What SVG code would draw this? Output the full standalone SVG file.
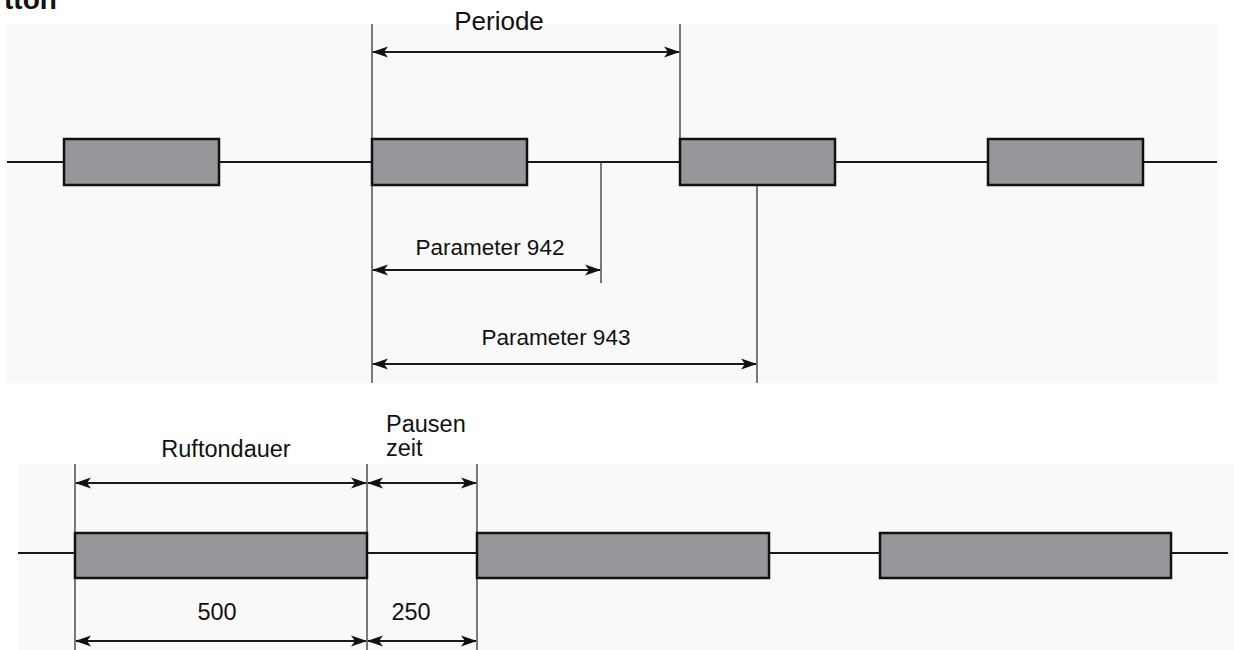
<svg xmlns="http://www.w3.org/2000/svg" width="1234" height="650" viewBox="0 0 1234 650">
<defs>
<style>
.panel{fill:#f9f9f9;stroke:none}
.ln{stroke:#1a1a1a;stroke-width:2;fill:none}
.tick{stroke:#333;stroke-width:1.3;fill:none}
.pulse{fill:#95979b;stroke:#111;stroke-width:2.5}
.dim{stroke:#1a1a1a;stroke-width:2;fill:none;marker-start:url(#a);marker-end:url(#a)}
.t{font-family:"Liberation Sans",Arial,sans-serif;fill:#111}
</style>
<marker id="a" viewBox="0 0 16 12" refX="15" refY="6" markerWidth="16" markerHeight="12" markerUnits="userSpaceOnUse" orient="auto-start-reverse">
<path d="M0,0.5 L16,6 L0,11.5 L4,6 z" fill="#111"/>
</marker>
</defs>
<rect class="panel" x="7" y="24" width="1210" height="359"/>
<rect class="panel" x="18" y="464" width="1216" height="186"/>
<text class="t" x="4" y="9" font-size="28" font-weight="bold">tton</text>

<g id="connectors">
<line class="ln" x1="7" y1="162" x2="1217" y2="162"/>
<line class="tick" x1="372" y1="24" x2="372" y2="383"/>
<line class="tick" x1="680" y1="24" x2="680" y2="139"/>
<line class="tick" x1="601" y1="162" x2="601" y2="283"/>
<line class="tick" x1="757" y1="185" x2="757" y2="383"/>
<line class="dim" x1="373" y1="52" x2="679" y2="52"/>
<line class="dim" x1="373" y1="270" x2="600" y2="270"/>
<line class="dim" x1="373" y1="364" x2="756" y2="364"/>

<line class="ln" x1="18" y1="553" x2="1228" y2="553"/>
<line class="tick" x1="75" y1="464" x2="75" y2="650"/>
<line class="tick" x1="367" y1="464" x2="367" y2="650"/>
<line class="tick" x1="477" y1="464" x2="477" y2="650"/>
<line class="dim" x1="76" y1="483" x2="366" y2="483"/>
<line class="dim" x1="368" y1="483" x2="476" y2="483"/>
<line class="dim" x1="76" y1="641" x2="366" y2="641"/>
<line class="dim" x1="368" y1="641" x2="476" y2="641"/>
</g>

<g id="pulse1"><rect class="pulse" x="64" y="139" width="155" height="46"/></g>
<g id="pulse2"><rect class="pulse" x="372" y="139" width="155" height="46"/></g>
<g id="pulse3"><rect class="pulse" x="680" y="139" width="155" height="46"/></g>
<g id="pulse4"><rect class="pulse" x="988" y="139" width="155" height="46"/></g>

<g id="bpulse1"><rect class="pulse" x="75" y="533" width="292" height="45"/></g>
<g id="bpulse2"><rect class="pulse" x="477" y="533" width="292" height="45"/></g>
<g id="bpulse3"><rect class="pulse" x="880" y="533" width="291" height="45"/></g>

<g id="labels">
<text class="t" x="499" y="30" font-size="26" text-anchor="middle">Periode</text>
<text class="t" x="490" y="255" font-size="22.5" text-anchor="middle">Parameter 942</text>
<text class="t" x="556" y="345" font-size="22.5" text-anchor="middle">Parameter 943</text>
<text class="t" x="226" y="457" font-size="23.5" text-anchor="middle">Ruftondauer</text>
<text class="t" x="386" y="432" font-size="23.5">Pausen</text>
<text class="t" x="386" y="456" font-size="23.5">zeit</text>
<text class="t" x="217" y="620" font-size="23.5" text-anchor="middle">500</text>
<text class="t" x="411" y="620" font-size="23.5" text-anchor="middle">250</text>
</g>
</svg>
